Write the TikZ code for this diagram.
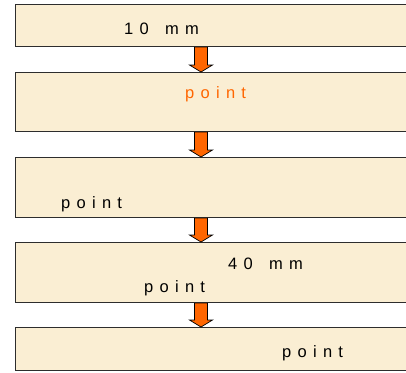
\documentclass[tikz,border=0pt]{standalone}
\usepackage{fontspec}
\setmainfont{Liberation Sans}
\newfontfamily\stagefont[LetterSpace=38,WordSpace=1.5]{Liberation Sans}
\usetikzlibrary{calc,positioning}
\definecolor{stagefill}{RGB}{250,238,211}
\definecolor{floworange}{RGB}{255,102,0}
\definecolor{edgegray}{RGB}{45,45,45}

\begin{document}
\begin{tikzpicture}[
  x=1pt,y=-1pt,
  every node/.style={font=\stagefont\fontsize{16.5}{19}\selectfont},
  stagebox/.style={draw=edgegray,fill=stagefill,line width=1.1pt,anchor=north west,
                   minimum width=410pt,inner sep=0pt},
  lbl/.style={anchor=base west,inner sep=0pt},
  flowarr/.style={fill=floworange,draw=black,line width=0.7pt,
    to path={let \p1=(\tikztostart),\p2=(\tikztotarget) in
      (\x1-6.5pt,\y1) -- (\x1+6.5pt,\y1) -- (\x1+6.5pt,\y2+7pt) -- (\x1+11.5pt,\y2+7pt)
      -- (\x2,\y2) -- (\x1-11.5pt,\y2+7pt) -- (\x1-6.5pt,\y2+7pt) -- cycle}},
]
  \useasboundingbox (0,0) rectangle (406,372);
  \clip (0,0) rectangle (406,372);

  % Stage boxes
  \node[stagebox,minimum height=42pt] (s1) at (15,4) {};
  \node[stagebox,minimum height=59pt] (s2) at (15,72) {};
  \node[stagebox,minimum height=60pt] (s3) at (15,157) {};
  \node[stagebox,minimum height=60pt] (s4) at (15,242) {};
  \node[stagebox,minimum height=43pt] (s5) at (15,327) {};

  % Labels
  \node[lbl] (t1) at (124,34) {10 mm};
  \node[lbl,text=floworange] (t2) at (185,98) {point};
  \node[lbl] (t3) at (61,208) {point};
  \node[lbl] (t4) at (228,269) {40 mm};
  \node[lbl] (t4b) at (144,292) {point};
  \node[lbl] (t5) at (282,357) {point};

  % Arrows
  \coordinate (ax) at (201,0);
  \foreach \a/\b in {s1/s2,s2/s3,s3/s4,s4/s5}
    \draw[flowarr] (\a.south -| ax) to (\b.north -| ax);
\end{tikzpicture}
\end{document}
